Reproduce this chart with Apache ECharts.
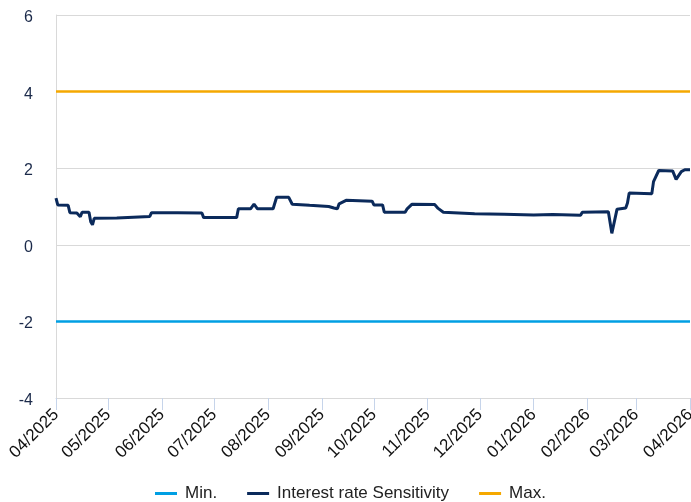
<!DOCTYPE html>
<html>
<head>
<meta charset="utf-8">
<script src="https://cdn.jsdelivr.net/npm/echarts@6/dist/echarts.min.js"></script>
<style>
  html, body { margin: 0; padding: 0; background: #fff; }
  #chart { width: 691px; height: 502px; }
</style>
</head>
<body>
<div id="chart"></div>
<script>
// Interest rate sensitivity over the last year, with its allowed band
const dates = [
  '2025-04-01','2025-04-02','2025-04-08','2025-04-09','2025-04-13','2025-04-14','2025-04-15','2025-04-16',
  '2025-04-20','2025-04-21','2025-04-22','2025-04-23','2025-05-06','2025-05-07','2025-05-25','2025-05-26',
  '2025-06-10','2025-06-24','2025-06-25','2025-07-14','2025-07-15','2025-07-22','2025-07-24','2025-07-25',
  '2025-07-26','2025-08-04','2025-08-06','2025-08-13','2025-08-15','2025-08-25','2025-09-05','2025-09-08',
  '2025-09-10','2025-09-11','2025-09-15','2025-09-30','2025-10-01','2025-10-06','2025-10-07','2025-10-19',
  '2025-10-20','2025-10-23','2025-11-05','2025-11-07','2025-11-10','2025-11-28','2025-12-15','2026-01-01',
  '2026-01-12','2026-01-28','2026-01-29','2026-02-13','2026-02-15','2026-02-18','2026-02-23','2026-02-24',
  '2026-02-25','2026-03-10','2026-03-11','2026-03-14','2026-03-22','2026-03-24','2026-03-27','2026-03-29',
  '2026-04-01'
];
const sensitivity = [
  1.22, 1.04, 1.03, 0.84, 0.83, 0.81, 0.73, 0.85,
  0.85, 0.60, 0.52, 0.69, 0.70, 0.74, 0.74, 0.84,
  0.84, 0.83, 0.71, 0.71, 0.94, 0.94, 1.06, 1.05,
  0.94, 0.94, 1.24, 1.24, 1.06, 1.03, 1.00, 0.96,
  0.94, 1.07, 1.16, 1.14, 1.04, 1.04, 0.85, 0.85,
  0.93, 1.06, 1.05, 0.95, 0.85, 0.81, 0.80, 0.78,
  0.79, 0.77, 0.85, 0.86, 0.30, 0.93, 0.96, 1.09,
  1.35, 1.33, 1.65, 1.94, 1.93, 1.71, 1.91, 1.96,
  1.96
];
const minLimit = -2;
const maxLimit = 4;
const seriesNames = ['Min.', 'Interest rate Sensitivity', 'Max.'];
const yTicks = [-4, -2, 0, 2, 4, 6];

function toTime(s) {
  const p = s.split('-').map(Number);
  return new Date(p[0], p[1] - 1, p[2]).getTime();
}
const times = dates.map(toTime);
const startTime = times[0];
const endTime = times[times.length - 1];

// month starts used for ticks and labels
const monthTicks = [];
for (let i = 0; i <= 12; i++) {
  monthTicks.push(new Date(2025, 3 + i, 1).getTime());
}

const font = '"Liberation Sans", Arial, sans-serif';
const chart = echarts.init(document.getElementById('chart'), null, { renderer: 'canvas' });

chart.setOption({
  animation: false,
  color: ['#009fe3', '#0b2a5b', '#f5a800'],
  grid: { left: 56, right: 1, top: 15, bottom: 104, containLabel: false, outerBoundsMode: 'none' },
  legend: {
    bottom: -5,
    left: 150,
    itemWidth: 22,
    itemHeight: 3,
    itemGap: 30,
    icon: 'rect',
    textStyle: { fontFamily: font, fontSize: 17, color: '#222', padding: [0, 0, 0, 3] },
    data: seriesNames
  },
  xAxis: {
    type: 'value',
    min: startTime,
    max: endTime,
    axisLine: { show: true, onZero: false, lineStyle: { color: '#d9d9d9', width: 1 } },
    axisTick: { show: true, length: 12, lineStyle: { color: '#c6d4ea' }, customValues: monthTicks },
    axisLabel: {
      rotate: 45,
      margin: 14,
      fontFamily: font,
      fontSize: 17,
      color: '#111',
      customValues: monthTicks,
      formatter: function (v) {
        const d = new Date(v);
        const m = d.getMonth() + 1;
        return (m < 10 ? '0' + m : '' + m) + '/' + d.getFullYear();
      }
    },
    splitLine: { show: false }
  },
  yAxis: {
    type: 'value',
    min: yTicks[0],
    max: yTicks[yTicks.length - 1],
    interval: 2,
    axisLine: { show: true, lineStyle: { color: '#d9d9d9', width: 1 } },
    axisTick: { show: false },
    axisLabel: {
      margin: 23,
      formatter: function (v) { return '{n|' + v + '}'; },
      rich: {
        n: { fontFamily: font, fontSize: 16, color: '#1b2a4a', padding: [5, 0, 0, 0] }
      }
    },
    splitLine: { show: true, lineStyle: { color: '#d9d9d9', width: 1 } }
  },
  series: [
    {
      name: seriesNames[0],
      type: 'line',
      symbol: 'none',
      lineStyle: { width: 2.5 },
      data: [[startTime, minLimit], [endTime, minLimit]]
    },
    {
      name: seriesNames[1],
      type: 'line',
      symbol: 'none',
      lineStyle: { width: 3 },
      data: times.map((t, i) => [t, sensitivity[i]])
    },
    {
      name: seriesNames[2],
      type: 'line',
      symbol: 'none',
      lineStyle: { width: 2.5 },
      data: [[startTime, maxLimit], [endTime, maxLimit]]
    }
  ]
});
</script>
</body>
</html>
